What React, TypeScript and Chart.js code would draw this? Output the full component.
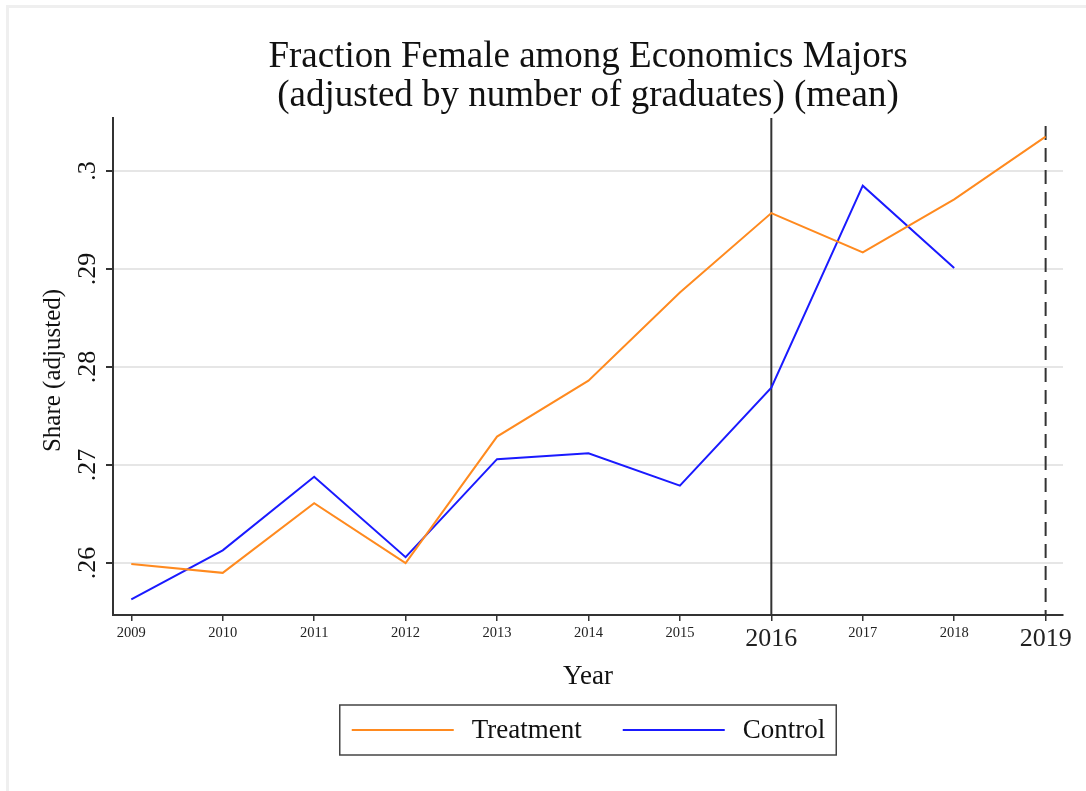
import React, { useEffect, useRef } from "react";
import { Chart, registerables } from "chart.js";

Chart.register(...registerables);

const years = [2009, 2010, 2011, 2012, 2013, 2014, 2015, 2016, 2017, 2018, 2019];
const treatment = [0.2599, 0.259, 0.2661, 0.26, 0.2729, 0.2786, 0.2876, 0.2957, 0.2917, 0.2971, 0.3035];
const control: (number | null)[] = [0.2563, 0.2613, 0.2688, 0.2606, 0.2706, 0.2712, 0.2679, 0.2779, 0.2985, 0.2901, null];
const yTicks = [0.26, 0.27, 0.28, 0.29, 0.3];
const yTickLabels = [".26", ".27", ".28", ".29", ".3"];
const bigYears = [2016, 2019];
const solidLineYear = 2016;
const dashedLineYear = 2019;
const titleLines = ["Fraction Female among Economics Majors", "(adjusted by number of graduates) (mean)"];
const yTitle = "Share (adjusted)";
const xTitle = "Year";
const seriesNames = ["Treatment", "Control"];
const ORANGE = "#ff8a1f";
const BLUE = "#1a1aff";
const FONT = "'Liberation Serif', 'Times New Roman', serif";

const drawPlugin = {
  id: "customDraw",
  beforeDatasetsDraw(chart: any) {
    const { ctx, chartArea, scales } = chart;
    const x = scales.x;
    ctx.save();
    ctx.strokeStyle = "#333333";
    ctx.lineWidth = 2;
    const xs = x.getPixelForValue(solidLineYear);
    ctx.beginPath();
    ctx.moveTo(xs, chartArea.top);
    ctx.lineTo(xs, chartArea.bottom);
    ctx.stroke();
    const xd = x.getPixelForValue(dashedLineYear);
    ctx.setLineDash([14, 8]);
    ctx.beginPath();
    ctx.moveTo(xd, chartArea.top + 8);
    ctx.lineTo(xd, chartArea.bottom);
    ctx.stroke();
    ctx.restore();
  },
  afterDraw(chart: any) {
    const { ctx, chartArea, scales } = chart;
    const y = scales.y;
    ctx.save();
    // frame
    ctx.fillStyle = "#efefef";
    ctx.fillRect(6, 5, 3, 786);
    ctx.fillRect(6, 5, 1080, 3);
    const cx = (chartArea.left + chartArea.right) / 2;
    // title
    ctx.fillStyle = "#111111";
    ctx.font = `37px ${FONT}`;
    ctx.textAlign = "center";
    ctx.textBaseline = "alphabetic";
    ctx.fillText(titleLines[0], cx, 67);
    ctx.fillText(titleLines[1], cx, 106);
    // y tick labels rotated
    ctx.font = `26px ${FONT}`;
    yTicks.forEach((v, i) => {
      const py = y.getPixelForValue(v);
      ctx.save();
      ctx.translate(95, py);
      ctx.rotate(-Math.PI / 2);
      ctx.textAlign = "center";
      ctx.fillText(yTickLabels[i], 0, 0);
      ctx.restore();
    });
    // y title
    ctx.save();
    ctx.font = `25px ${FONT}`;
    ctx.translate(60, (chartArea.top + chartArea.bottom) / 2 + 4);
    ctx.rotate(-Math.PI / 2);
    ctx.textAlign = "center";
    ctx.fillText(yTitle, 0, 0);
    ctx.restore();
    // x title
    ctx.font = `27px ${FONT}`;
    ctx.textAlign = "center";
    ctx.fillText(xTitle, cx, 684);
    // legend
    const fs = 27;
    ctx.font = `${fs}px ${FONT}`;
    const lineW = 102;
    const t0 = ctx.measureText(seriesNames[0]).width;
    const t1 = ctx.measureText(seriesNames[1]).width;
    const padL = 12, gapLT = 18, gapItems = 41, padR = 11;
    const total = padL + lineW + gapLT + t0 + gapItems + lineW + gapLT + t1 + padR;
    const bx = cx - total / 2;
    const by = 705, bh = 50;
    ctx.strokeStyle = "#444444";
    ctx.lineWidth = 1.5;
    ctx.strokeRect(bx, by, total, bh);
    const ly = by + bh / 2;
    let px = bx + padL;
    ctx.lineWidth = 2;
    ctx.strokeStyle = ORANGE;
    ctx.beginPath(); ctx.moveTo(px, ly); ctx.lineTo(px + lineW, ly); ctx.stroke();
    px += lineW + gapLT;
    ctx.textAlign = "left";
    ctx.textBaseline = "middle";
    ctx.fillStyle = "#111111";
    ctx.fillText(seriesNames[0], px, ly + 1);
    px += t0 + gapItems;
    ctx.strokeStyle = BLUE;
    ctx.beginPath(); ctx.moveTo(px, ly); ctx.lineTo(px + lineW, ly); ctx.stroke();
    px += lineW + gapLT;
    ctx.fillText(seriesNames[1], px, ly + 1);
    ctx.restore();
  },
};

export default function App() {
  const ref = useRef<HTMLCanvasElement | null>(null);
  useEffect(() => {
    if (!ref.current) return;
    const chart = new Chart(ref.current, {
      type: "line",
      data: {
        datasets: [
          {
            label: seriesNames[0],
            data: years.map((yr, i) => ({ x: yr, y: treatment[i] })),
            borderColor: ORANGE,
            backgroundColor: ORANGE,
            borderWidth: 2,
            pointRadius: 0,
            tension: 0,
          },
          {
            label: seriesNames[1],
            data: years
              .map((yr, i) => ({ x: yr, y: control[i] }))
              .filter((p) => p.y !== null) as any,
            borderColor: BLUE,
            backgroundColor: BLUE,
            borderWidth: 2,
            pointRadius: 0,
            tension: 0,
          },
        ],
      },
      options: {
        animation: false,
        responsive: false,
        maintainAspectRatio: false,
        layout: { padding: { left: 0, right: 23, top: 118, bottom: 136 } },
        plugins: { legend: { display: false }, title: { display: false }, tooltip: { enabled: false } },
        scales: {
          x: {
            type: "linear",
            min: 2008.8,
            max: 2019.19,
            afterBuildTicks: (s: any) => {
              s.ticks = years.map((v) => ({ value: v }));
            },
            afterFit: (s: any) => {
              s.height = 40;
            },
            ticks: {
              autoSkip: false,
              maxRotation: 0,
              minRotation: 0,
              padding: 3,
              color: "#222222",
              callback: (v: any) => String(v),
              font: (c: any) => ({
                family: FONT,
                size: c.tick && bigYears.includes(c.tick.value) ? 26 : 14.5,
              }),
            },
            grid: {
              display: true,
              drawOnChartArea: false,
              drawTicks: true,
              tickLength: 6,
              color: "#333333",
              lineWidth: 1.5,
            },
            border: { display: true, color: "#333333", width: 2 },
          },
          y: {
            type: "linear",
            min: 0.2547,
            max: 0.3054,
            afterBuildTicks: (s: any) => {
              s.ticks = yTicks.map((v) => ({ value: v }));
            },
            afterFit: (s: any) => {
              s.width = 113;
            },
            ticks: { display: false },
            grid: {
              display: true,
              drawOnChartArea: true,
              drawTicks: true,
              tickLength: 7,
              color: "#e6e6e6",
              tickColor: "#333333",
              lineWidth: 2,
            },
            border: { display: true, color: "#333333", width: 2 },
          },
        },
      },
      plugins: [drawPlugin],
    });
    return () => chart.destroy();
  }, []);
  return (
    <div style={{ position: "absolute", left: 0, top: 0, width: 1086, height: 791, background: "#ffffff" }}>
      <canvas ref={ref} width={1086} height={791} style={{ display: "block" }} />
    </div>
  );
}
